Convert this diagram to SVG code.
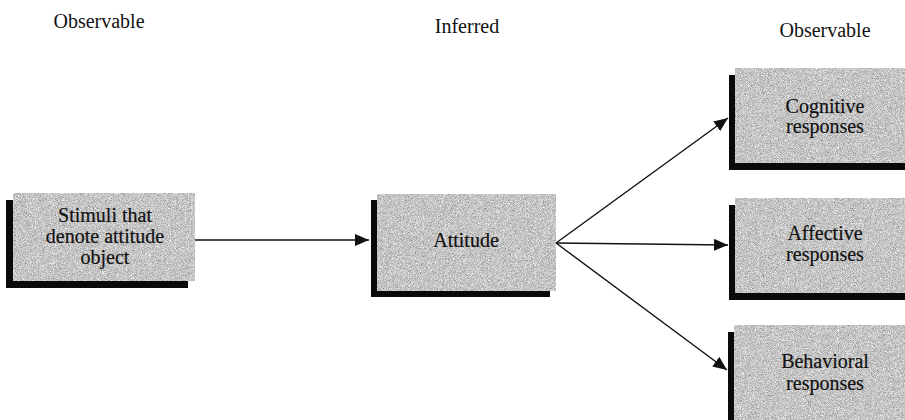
<svg xmlns="http://www.w3.org/2000/svg" width="905" height="420" viewBox="0 0 905 420">
<style>
text{font-family:'Liberation Serif','Times New Roman',Times,serif;font-size:20px;fill:#111;text-anchor:middle}
.lbl{stroke:#111;stroke-width:0.2}
.box{fill:#c4c4c4;filter:url(#grain)}
.shd{fill:#0a0a0a}
.con{stroke:#111;stroke-width:1.4;fill:none;marker-end:url(#ah)}
</style>
<defs>
<marker id="ah" viewBox="0 0 14 12" refX="14" refY="6" markerWidth="14" markerHeight="12" markerUnits="userSpaceOnUse" orient="auto">
<path d="M0,0 L14,6 L0,12 Z" fill="#111"/>
</marker>
<filter id="grain" x="0" y="0" width="100%" height="100%" color-interpolation-filters="sRGB">
<feTurbulence type="fractalNoise" baseFrequency="1.4" numOctaves="1" seed="7" result="n"/>
<feColorMatrix in="n" type="matrix" values="0.4 0.4 0.4 0 0.17  0.4 0.4 0.4 0 0.17  0.4 0.4 0.4 0 0.17  0 0 0 0 1" result="g"/>
<feComposite in="g" in2="SourceGraphic" operator="in"/>
</filter>
</defs>
<rect width="905" height="420" fill="#fff"/>
<g id="headers">
<text x="99" y="28">Observable</text>
<text x="467" y="33">Inferred</text>
<text x="825" y="37">Observable</text>
</g>
<g id="connectors">
<line class="con" x1="195" y1="240" x2="369" y2="240"/>
<line class="con" x1="556" y1="243" x2="728" y2="118"/>
<line class="con" x1="556" y1="243" x2="728" y2="245"/>
<line class="con" x1="556" y1="243" x2="727" y2="370"/>
</g>
<g id="stimuli">
<rect class="shd" x="6" y="200" width="182" height="88"/>
<rect class="box" x="13" y="193" width="182" height="88"/>
<text class="lbl" x="105" y="222">Stimuli that</text>
<text class="lbl" x="105" y="243">denote attitude</text>
<text class="lbl" x="105" y="264">object</text>
</g>
<g id="attitude">
<rect class="shd" x="371" y="200" width="179" height="97"/>
<rect class="box" x="377" y="194" width="179" height="97"/>
<text class="lbl" x="466" y="247">Attitude</text>
</g>
<g id="cognitive">
<rect class="shd" x="729" y="75" width="176" height="95"/>
<rect class="box" x="735" y="68" width="170" height="95"/>
<text class="lbl" x="825" y="113">Cognitive</text>
<text class="lbl" x="825" y="133">responses</text>
</g>
<g id="affective">
<rect class="shd" x="729" y="205" width="176" height="95"/>
<rect class="box" x="735" y="198" width="170" height="95"/>
<text class="lbl" x="825" y="240">Affective</text>
<text class="lbl" x="825" y="261">responses</text>
</g>
<g id="behavioral">
<rect class="shd" x="728" y="332" width="177" height="100"/>
<rect class="box" x="734" y="325" width="171" height="100"/>
<text class="lbl" x="825" y="368">Behavioral</text>
<text class="lbl" x="825" y="390">responses</text>
</g>
</svg>
